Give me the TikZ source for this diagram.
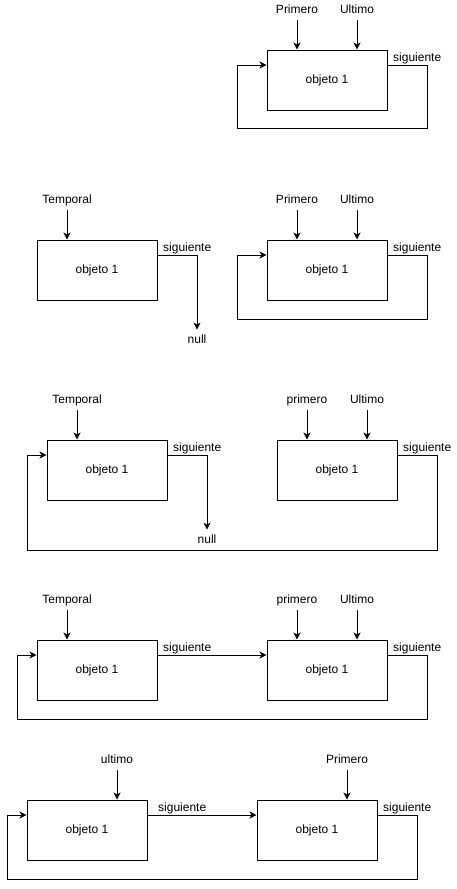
\documentclass[tikz,border=0pt]{standalone}
\usepackage{fontspec}
\setmainfont{Liberation Sans}
\usetikzlibrary{arrows.meta}
\begin{document}
\begin{tikzpicture}[x=1pt,y=-1pt,
  obj/.style={draw,line width=1pt,minimum width=120pt,minimum height=60pt,inner sep=0pt,font=\fontsize{12pt}{14pt}\selectfont},
  lbl/.style={inner sep=0pt,anchor=base,font=\fontsize{12pt}{14pt}\selectfont},
  sig/.style={inner sep=0pt,anchor=base west,font=\fontsize{12pt}{14pt}\selectfont},
  arr/.style={line width=1pt,-{Stealth[length=7pt,width=7pt,inset=2pt]}}]
\useasboundingbox (0,0) rectangle (457,889);
% ---------- group 1
\node[obj] (b1) at (327,80) {objeto 1};
\node[lbl] (p1) at (297,13.5) {Primero};
\node[lbl] (u1) at (357,13.5) {Ultimo};
\draw[arr] ([yshift=-6.5pt]p1.base) -- (p1 |- b1.north);
\draw[arr] ([yshift=-6.5pt]u1.base) -- (u1 |- b1.north);
\node[sig] (s1) at (393,61.5) {siguiente};
\coordinate (l1a) at (427,128);
\coordinate (l1b) at (237,128);
\draw[arr] ([yshift=15pt]b1.east) -| (l1a) -- (l1b) |- ([yshift=15pt]b1.west);
% ---------- group 2
\node[obj] (b2) at (97,270) {objeto 1};
\node[lbl] (t2) at (67,203.5) {Temporal};
\draw[arr] ([yshift=-6.5pt]t2.base) -- (t2 |- b2.north);
\node[sig] (s2) at (163,251.5) {siguiente};
\node[lbl] (n2) at (197,343.5) {null};
\draw[arr] ([yshift=15pt]b2.east) -| ([yshift=5pt]n2.north);
\node[obj] (b3) at (327,270) {objeto 1};
\node[lbl] (p3) at (297,203.5) {Primero};
\node[lbl] (u3) at (357,203.5) {Ultimo};
\draw[arr] ([yshift=-6.5pt]p3.base) -- (p3 |- b3.north);
\draw[arr] ([yshift=-6.5pt]u3.base) -- (u3 |- b3.north);
\node[sig] (s3) at (393,251.5) {siguiente};
\coordinate (l3a) at (427,319);
\coordinate (l3b) at (237,319);
\draw[arr] ([yshift=15pt]b3.east) -| (l3a) -- (l3b) |- ([yshift=15pt]b3.west);
% ---------- group 3
\node[obj] (b4) at (107,470) {objeto 1};
\node[lbl] (t4) at (77,403.5) {Temporal};
\draw[arr] ([yshift=-6.5pt]t4.base) -- (t4 |- b4.north);
\node[sig] (s4) at (173,451.5) {siguiente};
\node[lbl] (n4) at (207,543.5) {null};
\draw[arr] ([yshift=15pt]b4.east) -| ([yshift=5pt]n4.north);
\node[obj] (b5) at (337,470) {objeto 1};
\node[lbl] (p5) at (307,403.5) {primero};
\node[lbl] (u5) at (367,403.5) {Ultimo};
\draw[arr] ([yshift=-6.5pt]p5.base) -- (p5 |- b5.north);
\draw[arr] ([yshift=-6.5pt]u5.base) -- (u5 |- b5.north);
\node[sig] (s5) at (403,451.5) {siguiente};
\coordinate (l5a) at (437,550);
\coordinate (l5b) at (27,550);
\draw[arr] ([yshift=15pt]b5.east) -| (l5a) -- (l5b) |- ([yshift=15pt]b4.west);
% ---------- group 4
\node[obj] (b6) at (97,670) {objeto 1};
\node[lbl] (t6) at (67,603.5) {Temporal};
\draw[arr] ([yshift=-6.5pt]t6.base) -- (t6 |- b6.north);
\node[obj] (b7) at (327,670) {objeto 1};
\node[lbl] (p7) at (297,603.5) {primero};
\node[lbl] (u7) at (357,603.5) {Ultimo};
\draw[arr] ([yshift=-6.5pt]p7.base) -- (p7 |- b7.north);
\draw[arr] ([yshift=-6.5pt]u7.base) -- (u7 |- b7.north);
\node[sig] (s6) at (163,651.5) {siguiente};
\draw[arr] ([yshift=15pt]b6.east) -- ([yshift=15pt]b7.west);
\node[sig] (s7) at (393,651.5) {siguiente};
\coordinate (l7a) at (427,719);
\coordinate (l7b) at (17,719);
\draw[arr] ([yshift=15pt]b7.east) -| (l7a) -- (l7b) |- ([yshift=15pt]b6.west);
% ---------- group 5
\node[obj] (b8) at (87,830) {objeto 1};
\node[lbl] (u8) at (117,763.5) {ultimo};
\draw[arr] ([yshift=-6.5pt]u8.base) -- (u8 |- b8.north);
\node[obj] (b9) at (317,830) {objeto 1};
\node[lbl] (p9) at (347,763.5) {Primero};
\draw[arr] ([yshift=-6.5pt]p9.base) -- (p9 |- b9.north);
\node[sig] (s8) at (158,811.5) {siguiente};
\draw[arr] ([yshift=15pt]b8.east) -- ([yshift=15pt]b9.west);
\node[sig] (s9) at (383,811.5) {siguiente};
\coordinate (l9a) at (417,879);
\coordinate (l9b) at (7,879);
\draw[arr] ([yshift=15pt]b9.east) -| (l9a) -- (l9b) |- ([yshift=15pt]b8.west);
\end{tikzpicture}
\end{document}
